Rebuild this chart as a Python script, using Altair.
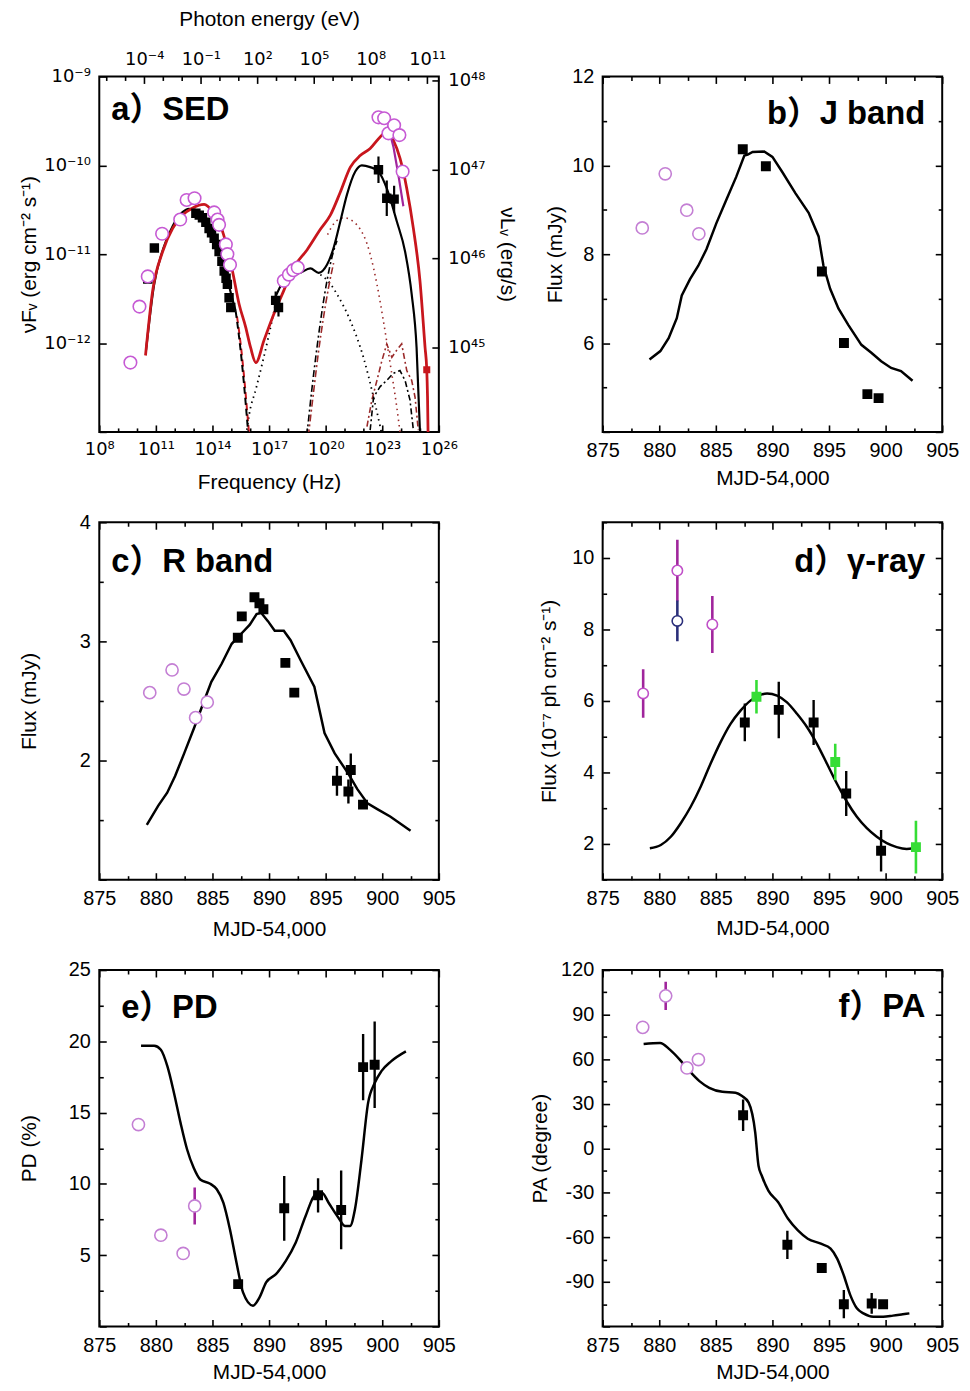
import altair as alt
import pandas as pd

# ---------------- style ----------------
FONT = "Liberation Sans"
SUP_FONT = "DejaVu Sans"
TAG_FONT = "Liberation Sans, Noto Sans CJK SC"
BLK = "#000000"
RED = "#c8161d"
PINK = "#c65ad4"
LPINK = "#c47fd4"
MAG = "#a0259c"
NAVY = "#2b2f7a"
GREEN = "#35dd35"

W = 342
H1, H2, H3 = 358, 360, 359

# ---------------- panel a: SED (log10 nu [Hz], log10 nuFnu [erg cm-2 s-1]) ----------------
RED_NU = [10.45, 10.83, 11.36, 11.89, 12.42, 12.95, 13.56, 14.00, 14.53, 15.06, 15.41, 15.76, 16.02, 16.30,
          16.73, 17.26, 17.78, 18.31, 19.02, 19.72, 20.25, 20.78, 21.31, 21.83, 22.36, 22.89, 23.24, 23.59,
          23.94, 24.30, 24.65, 25.00, 25.27, 25.36, 25.40, 25.45]
RED_F = [-12.14, -11.41, -10.97, -10.71, -10.56, -10.48, -10.44, -10.52, -10.74, -11.19, -11.56, -11.82, -12.05,
         -12.22, -11.97, -11.67, -11.41, -11.15, -10.95, -10.72, -10.56, -10.30, -10.02, -9.89, -9.81, -9.68,
         -9.62, -9.72, -9.92, -10.26, -10.71, -11.30, -12.05, -12.30, -12.60, -13.30]
BLK1_NU = [10.48, 10.90, 11.40, 11.90, 12.40, 12.75, 13.10, 13.50, 13.90, 14.30, 14.70, 15.05, 15.23]
BLK1_F = [-12.08, -11.35, -10.93, -10.68, -10.53, -10.49, -10.50, -10.58, -10.70, -10.90, -11.20, -11.50, -11.64]
BLKD_NU = [15.23, 15.41, 15.67, 15.85, 15.97]
BLKD_F = [-11.64, -11.93, -12.46, -12.90, -13.20]
REDD_NU = [15.30, 15.50, 15.72, 15.90, 16.02]
REDD_F = [-11.70, -12.02, -12.48, -12.92, -13.20]
SSC1_NU = [15.75, 15.95, 16.30, 16.64, 17.00, 17.35]
SSC1_F = [-13.10, -12.80, -12.52, -12.23, -11.90, -11.55]
BLK2_NU = [17.30, 17.78, 18.14, 18.66, 19.19, 19.63, 20.07, 20.42, 20.78, 21.13, 21.57, 21.92, 22.36, 22.80,
           23.24, 23.77, 24.21, 24.56, 24.82, 25.00]
BLK2_F = [-11.50, -11.30, -11.25, -11.21, -11.16, -11.21, -11.12, -10.93, -10.63, -10.33, -10.07, -10.00, -10.02,
          -10.07, -10.26, -10.63, -10.97, -11.45, -12.05, -13.00]
SSC2_NU = [19.72, 20.20, 20.60, 21.31, 22.00, 22.54, 22.89, 23.05]
SSC2_F = [-11.23, -11.32, -11.45, -11.75, -12.16, -12.61, -12.94, -13.10]
EC_NU = [20.10, 20.50, 20.96, 21.66, 22.36, 22.72, 23.06, 23.42, 23.77, 23.97]
EC_F = [-10.78, -10.64, -10.59, -10.67, -11.00, -11.34, -11.75, -12.23, -12.72, -13.05]
ECR_NU = [19.00, 19.28, 19.54, 19.80, 20.07, 20.35, 20.60]
ECR_F = [-13.05, -12.50, -12.05, -11.65, -11.30, -11.02, -10.85]
ECR2_NU = [19.08, 19.36, 19.62, 19.88, 20.15, 20.42]
ECR2_F = [-13.05, -12.55, -12.10, -11.72, -11.38, -11.10]
JAGR_NU = [22.19, 22.45, 22.72, 22.98, 23.24, 23.51, 23.77, 24.03, 24.30, 24.56, 24.74, 24.91]
JAGR_F = [-12.94, -12.64, -12.42, -12.20, -12.01, -12.16, -12.08, -12.01, -12.31, -12.42, -12.61, -12.98]
JAGB_NU = [22.36, 22.54, 22.89, 23.24, 23.59, 23.94, 24.21, 24.47, 24.65]
JAGB_F = [-12.98, -12.61, -12.49, -12.42, -12.34, -12.31, -12.42, -12.64, -12.98]
BUTT_NU = [23.30, 23.60, 23.85, 24.12]
BUTT_F = [-9.55, -9.80, -10.10, -10.46]
SED_CIRC_NU = [9.65, 10.13, 10.57, 11.33, 12.29, 12.63, 13.05, 14.09, 14.27, 14.35, 14.71, 14.79, 14.93,
               17.78, 18.05, 18.28, 18.52, 22.80, 23.10, 23.33, 23.63, 23.91, 24.08]
SED_CIRC_F = [-12.22, -11.59, -11.25, -10.77, -10.61, -10.39, -10.37, -10.53, -10.61, -10.67, -10.89, -11.00,
              -11.12, -11.30, -11.23, -11.18, -11.15, -9.46, -9.47, -9.64, -9.55, -9.66, -10.07]
SED_SQ_NU = [10.92, 10.57, 13.12, 13.30, 13.47, 13.65, 13.82, 13.95, 14.09, 14.22, 14.35, 14.50, 14.62, 14.72,
             14.79, 14.88, 14.97, 17.35, 17.50, 22.80, 23.24, 23.63]
SED_SQ_F = [-10.93, -11.28, -10.54, -10.56, -10.59, -10.64, -10.71, -10.76, -10.82, -10.89, -10.97, -11.08,
            -11.19, -11.27, -11.34, -11.49, -11.60, -11.52, -11.60, -10.05, -10.37, -10.38]
SED_SQ_ERR = [0, 0, 0, 0, 0, 0, 0, 0, 0, 0, 0, 0, 0, 0, 0, 0, 0, 0.10, 0.10, 0.15, 0.20, 0.15]
RED_END_NU = [25.36]
RED_END_F = [-12.30]

# ---------------- panel b: J band ----------------
J_CIRC_X = [878.50, 880.53, 882.43, 883.50]
J_CIRC_Y = [8.59, 9.81, 8.99, 8.46]
J_SQ_X = [887.38, 889.42, 894.37, 896.32, 898.39, 899.38]
J_SQ_Y = [10.36, 9.98, 7.61, 6.00, 4.85, 4.76]
J_MOD_X = [879.14, 880.10, 880.83, 881.55, 881.99, 882.72, 883.45, 884.17, 885.05, 885.92, 886.80, 887.52,
           887.82, 888.25, 889.27, 890.00, 890.87, 892.04, 893.20, 894.08, 894.51, 895.10, 895.83, 896.70,
           897.86, 898.74, 899.61, 900.49, 901.36, 902.38]
J_MOD_Y = [5.63, 5.82, 6.11, 6.56, 7.07, 7.44, 7.74, 8.11, 8.70, 9.22, 9.74, 10.22, 10.24, 10.30, 10.31, 10.19,
           9.85, 9.37, 8.93, 8.40, 7.74, 7.22, 6.78, 6.41, 5.96, 5.78, 5.59, 5.44, 5.37, 5.15]

# ---------------- panel c: R band ----------------
R_CIRC_X = [879.46, 881.43, 882.48, 883.51, 884.54]
R_CIRC_Y = [2.57, 2.76, 2.60, 2.36, 2.49]
R_SQ_X = [887.24, 887.59, 888.71, 889.15, 889.50, 891.44, 892.23, 896.00, 897.01, 897.22, 898.30]
R_SQ_Y = [3.03, 3.21, 3.37, 3.32, 3.27, 2.82, 2.57, 1.83, 1.74, 1.92, 1.63]
R_SQ_ERR = [0, 0, 0, 0, 0, 0, 0, 0.125, 0.10, 0.14, 0]
R_MOD_X = [879.2, 880.2, 881.0, 881.7, 882.5, 883.4, 884.3, 884.9, 885.8, 886.7, 887.5, 888.3, 888.9, 889.3,
           889.9, 890.5, 891.3, 891.9, 892.8, 894.0, 894.9, 895.8, 897.0, 897.8, 898.7, 899.6, 900.7, 902.5]
R_MOD_Y = [1.46, 1.62, 1.73, 1.87, 2.06, 2.28, 2.51, 2.66, 2.81, 2.98, 3.06, 3.14, 3.23, 3.24, 3.17, 3.09, 3.09,
           3.01, 2.84, 2.62, 2.23, 2.06, 1.89, 1.76, 1.64, 1.59, 1.53, 1.41]

# ---------------- panel d: gamma-ray ----------------
G_CIRC_X = [878.58, 881.60, 884.69]
G_CIRC_Y = [6.21, 9.65, 8.14]
G_CIRC_ERR = [0.68, 0.86, 0.80]
G_BLUE_X = [881.60]
G_BLUE_Y = [8.24]
G_BLUE_ERR = [0.57]
G_SQ_X = [887.56, 890.56, 893.64, 896.52, 899.60]
G_SQ_Y = [5.40, 5.75, 5.40, 3.41, 1.81]
G_SQ_ERR = [0.53, 0.79, 0.63, 0.63, 0.58]
G_GRN_X = [888.59, 895.55, 902.68]
G_GRN_Y = [6.12, 4.29, 1.91]
G_GRN_ERR = [0.47, 0.51, 0.74]
G_MOD_X = [879.17, 880.14, 881.02, 881.90, 882.78, 883.66, 884.54, 885.42, 886.30, 887.18, 888.06, 888.94,
           889.53, 890.41, 891.29, 892.17, 893.05, 893.93, 894.81, 895.69, 896.58, 897.46, 898.34, 899.22,
           900.10, 900.98, 901.86, 902.45]
G_MOD_Y = [1.88, 1.97, 2.20, 2.58, 3.04, 3.60, 4.25, 4.85, 5.36, 5.73, 6.01, 6.17, 6.21, 6.15, 5.96, 5.64, 5.27,
           4.80, 4.25, 3.69, 3.18, 2.76, 2.44, 2.20, 2.02, 1.91, 1.86, 1.88]

# ---------------- panel e: PD ----------------
PD_CIRC_X = [878.46, 880.44, 882.41, 883.43]
PD_CIRC_Y = [14.16, 6.40, 5.12, 8.45]
PD_CIRC_ERR = [0, 0, 0, 1.30]
PD_SQ_X = [887.27, 891.34, 894.33, 896.37, 898.31, 899.33]
PD_SQ_Y = [2.97, 8.29, 9.20, 8.17, 18.19, 18.36]
PD_SQ_ERR = [0, 2.27, 1.20, 2.76, 2.33, 3.03]
PD_MOD_X = [878.69, 879.85, 880.44, 881.02, 881.60, 882.18, 882.76, 883.34, 883.92, 884.80, 885.38, 885.96,
            886.54, 887.12, 887.70, 888.58, 889.16, 889.74, 890.61, 891.48, 892.36, 893.23, 894.10, 894.68,
            895.26, 896.13, 896.72, 897.15, 897.59, 898.17, 898.75, 899.33, 899.91, 900.78, 902.09]
PD_MOD_Y = [19.69, 19.69, 19.41, 18.24, 16.38, 14.28, 12.41, 11.13, 10.31, 10.01, 9.62, 8.68, 6.82, 4.49, 2.39,
            1.46, 2.04, 3.09, 3.67, 4.60, 5.89, 7.75, 9.27, 9.38, 8.68, 7.63, 7.05, 7.05, 8.22, 11.71, 15.68,
            17.07, 17.89, 18.59, 19.29]

# ---------------- panel f: PA ----------------
PA_CIRC_X = [878.54, 880.57, 882.45, 883.46]
PA_CIRC_Y = [81.4, 102.6, 54.1, 59.7]
PA_CIRC_ERR = [0, 9.5, 0, 0]
PA_SQ_X = [887.41, 891.32, 894.36, 896.31, 898.77, 899.78]
PA_SQ_Y = [22.2, -65.0, -80.6, -105.0, -104.5, -105.0]
PA_SQ_ERR = [10.6, 9.5, 0, 9.5, 7.0, 0]
PA_MOD_X = [878.62, 880.07, 880.94, 881.81, 882.68, 883.55, 884.42, 885.58, 886.74, 887.32, 887.90, 888.48,
            888.77, 889.06, 889.64, 890.51, 891.38, 892.25, 893.12, 894.28, 895.14, 895.72, 896.30, 896.88,
            897.46, 898.04, 898.91, 899.78, 900.65, 901.52, 902.10]
PA_MOD_Y = [70.2, 70.9, 66.4, 59.7, 51.9, 45.2, 40.7, 38.0, 37.4, 35.1, 30.7, 10.6, -11.8, -18.5, -28.5, -36.4,
            -47.5, -55.3, -60.9, -64.3, -67.6, -74.3, -85.5, -98.9, -107.8, -111.2, -113.4, -113.4, -112.7,
            -111.8, -111.2]

# ---------------- helpers ----------------
SUP = str.maketrans("-0123456789", "⁻⁰¹²³⁴⁵⁶⁷⁸⁹")


def sup10(n):
    return "10" + str(n).translate(SUP)


def expr_for(vals):
    parts = [f"datum.value == {v} ? '{sup10(v)}'" for v in vals]
    return " : ".join(parts) + " : ''"


def sc(dom):
    return alt.Scale(domain=list(dom), nice=False, zero=False)


def enc(xdom, ydom, xf="x", yf="y"):
    return dict(x=alt.X(f"{xf}:Q", scale=sc(xdom), axis=None),
                y=alt.Y(f"{yf}:Q", scale=sc(ydom), axis=None))


def line(xs, ys, xdom, ydom, color=BLK, width=2.4, dash=None, interp="monotone"):
    df = pd.DataFrame({"x": xs, "y": ys, "o": list(range(len(xs)))})
    kw = dict(color=color, strokeWidth=width, clip=True, interpolate=interp)
    if dash is not None:
        kw["strokeDash"] = dash
    return alt.Chart(df).mark_line(**kw).encode(order=alt.Order("o:Q"), **enc(xdom, ydom))


def squares(xs, ys, xdom, ydom, color=BLK, size=100):
    df = pd.DataFrame({"x": xs, "y": ys})
    return alt.Chart(df).mark_point(shape="square", filled=True, color=color, size=size,
                                    opacity=1, clip=True).encode(**enc(xdom, ydom))


def circles(xs, ys, xdom, ydom, color=LPINK, size=150, sw=1.6):
    df = pd.DataFrame({"x": xs, "y": ys})
    return alt.Chart(df).mark_point(shape="circle", filled=True, fill="white", stroke=color,
                                    strokeWidth=sw, size=size, opacity=1, clip=True).encode(**enc(xdom, ydom))


def errbars(xs, ys, es, xdom, ydom, color=BLK, width=2.4):
    rows = [(x, y - e, y + e) for x, y, e in zip(xs, ys, es) if e > 0]
    df = pd.DataFrame(rows, columns=["x", "lo", "hi"])
    return alt.Chart(df).mark_rule(color=color, strokeWidth=width, clip=True).encode(
        x=alt.X("x:Q", scale=sc(xdom), axis=None),
        y=alt.Y("lo:Q", scale=sc(ydom), axis=None),
        y2="hi:Q")


def lab_axis_x(vals, title, title_y, expr, orient="bottom", pad=9, lfont=FONT, lsize=20):
    return alt.Axis(orient=orient, values=vals, ticks=False, domain=False, grid=False,
                    labelFont=lfont, labelFontSize=lsize, labelColor="black", labelPadding=pad,
                    labelFlush=False, labelOverlap=False, labelExpr=expr,
                    title=title, titleFont=FONT, titleFontSize=21, titleFontWeight="normal",
                    titleColor="black", titleX=W / 2, titleY=title_y,
                    titleAlign="center", titleBaseline="middle", titleAngle=0)


def lab_axis_y(vals, title, title_x, H, expr, orient="left", pad=9, angle=270, lfont=FONT, lsize=20):
    return alt.Axis(orient=orient, values=vals, ticks=False, domain=False, grid=False,
                    labelFont=lfont, labelFontSize=lsize, labelColor="black", labelPadding=pad,
                    labelFlush=False, labelOverlap=False, labelExpr=expr,
                    title=title, titleFont=FONT, titleFontSize=21, titleFontWeight="normal",
                    titleColor="black", titleX=title_x, titleY=H / 2,
                    titleAlign="center", titleBaseline="middle", titleAngle=angle)


def tick_axis(orient, vals, size, offset):
    return alt.Axis(orient=orient, values=vals, offset=offset, labels=False, domain=False,
                    grid=False, ticks=True, tickSize=size, tickWidth=1.6, tickColor="black", title="")


def carrier(xdom, ydom, xaxis, yaxis):
    df = pd.DataFrame({"cx": [(xdom[0] + xdom[1]) / 2], "cy": [(ydom[0] + ydom[1]) / 2]})
    return alt.Chart(df).mark_point(opacity=0).encode(
        x=alt.X("cx:Q", scale=sc(xdom), axis=xaxis),
        y=alt.Y("cy:Q", scale=sc(ydom), axis=yaxis))


def tag(text, x, y, align):
    return alt.Chart(pd.DataFrame({"t": [text]})).mark_text(
        align=align, baseline="middle", font=TAG_FONT, fontSize=33, fontWeight="bold",
        color="black").encode(x=alt.value(x), y=alt.value(y), text="t:N")


PLAIN = "'' + datum.value"
T_DOM = [875, 905]
T_MAJ = [875, 880, 885, 890, 895, 900, 905]
T_MIN = [877.5, 882.5, 887.5, 892.5, 897.5, 902.5]


def std_panel(layers, ydom, H, ymaj, ymin, ylabs, ytitle, ytitle_x, xtitle_y, tagtext, tagx, tagy, tagalign):
    car = [
        carrier(T_DOM, ydom, lab_axis_x(T_MAJ, "MJD-54,000", xtitle_y, PLAIN),
                lab_axis_y(ylabs, ytitle, ytitle_x, H, PLAIN)),
        carrier(T_DOM, ydom, tick_axis("top", T_MAJ, 7, -H), tick_axis("right", ymaj, 7, -W)),
        carrier(T_DOM, ydom, tick_axis("top", T_MIN, 4, -H), tick_axis("right", ymin, 4, -W)),
        carrier(T_DOM, ydom, tick_axis("bottom", T_MAJ, 7, -H), tick_axis("left", ymaj, 7, -W)),
        carrier(T_DOM, ydom, tick_axis("bottom", T_MIN, 4, -H), tick_axis("left", ymin, 4, -W)),
    ]
    return alt.layer(*layers, *car, tag(tagtext, tagx, tagy, tagalign)).resolve_scale(
        x="independent", y="independent").properties(width=W, height=H)


# ---------------- panel a ----------------
NU_DOM = [8, 26]
F_DOM = [-13, -9]
E_DOM = [8 - 14.383, 26 - 14.383]
L_DOM = [44.05, 48.05]
NU_MAJ = [8, 11, 14, 17, 20, 23, 26]
NU_MIN = [9, 10, 12, 13, 15, 16, 18, 19, 21, 22, 24, 25]
E_MAJ = [-4, -1, 2, 5, 8, 11]
E_MIN = [-6, -5, -3, -2, 0, 1, 3, 4, 6, 7, 9, 10]
F_MAJ = [-13, -12, -11, -10, -9]
F_LAB = [-12, -11, -10, -9]
L_MAJ = [45, 46, 47, 48]

a_layers = [
    line(SSC1_NU, SSC1_F, NU_DOM, F_DOM, BLK, 1.8, [1.5, 4]),
    line(SSC2_NU, SSC2_F, NU_DOM, F_DOM, BLK, 1.8, [1.5, 4]),
    line(EC_NU, EC_F, NU_DOM, F_DOM, "#9a2a2a", 1.6, [1.5, 4]),
    line(ECR_NU, ECR_F, NU_DOM, F_DOM, BLK, 1.6, [7, 3, 2, 3]),
    line(ECR2_NU, ECR2_F, NU_DOM, F_DOM, "#9a2a2a", 1.6, [7, 3, 2, 3]),
    line(JAGR_NU, JAGR_F, NU_DOM, F_DOM, "#9a2a2a", 1.6, [6, 3, 2, 3], "linear"),
    line(JAGB_NU, JAGB_F, NU_DOM, F_DOM, BLK, 1.6, [6, 3, 2, 3], "linear"),
    line(REDD_NU, REDD_F, NU_DOM, F_DOM, RED, 2.0, [7, 4]),
    line(BLKD_NU, BLKD_F, NU_DOM, F_DOM, BLK, 2.0, [7, 4]),
    line(BLK1_NU, BLK1_F, NU_DOM, F_DOM, BLK, 2.2),
    line(BLK2_NU, BLK2_F, NU_DOM, F_DOM, BLK, 2.2),
    line(RED_NU, RED_F, NU_DOM, F_DOM, RED, 2.8),
    squares(RED_END_NU, RED_END_F, NU_DOM, F_DOM, RED, 50),
    line(BUTT_NU, BUTT_F, NU_DOM, F_DOM, MAG, 2.2, None, "linear"),
    errbars(SED_SQ_NU, SED_SQ_F, SED_SQ_ERR, NU_DOM, F_DOM, BLK, 2.2),
    squares(SED_SQ_NU, SED_SQ_F, NU_DOM, F_DOM, BLK, 90),
    circles(SED_CIRC_NU, SED_CIRC_F, NU_DOM, F_DOM, PINK, 160, 1.6),
]
a_car = [
    carrier(NU_DOM, F_DOM,
            lab_axis_x(NU_MAJ, "Frequency (Hz)", 51, expr_for(NU_MAJ), lfont=SUP_FONT, lsize=18),
            lab_axis_y(F_LAB, "νFᵥ (erg cm⁻² s⁻¹)", -70, H1, expr_for(F_LAB), lfont=SUP_FONT, lsize=18)),
    carrier(NU_DOM, F_DOM, tick_axis("top", NU_MAJ, 7, -H1), tick_axis("right", F_MAJ, 7, -W)),
    carrier(NU_DOM, F_DOM, tick_axis("top", NU_MIN, 4, -H1), None),
    carrier(E_DOM, F_DOM, lab_axis_x(E_MAJ, "Photon energy (eV)", -57, expr_for(E_MAJ), orient="top", pad=8,
                                     lfont=SUP_FONT, lsize=18), None),
    carrier(E_DOM, F_DOM, tick_axis("bottom", E_MAJ, 7, -H1), None),
    carrier(E_DOM, F_DOM, tick_axis("bottom", E_MIN, 4, -H1), None),
    carrier(NU_DOM, L_DOM, None,
            lab_axis_y(L_MAJ, "νLᵥ (erg/s)", 68, H1, expr_for(L_MAJ), orient="right", pad=9, angle=90,
                       lfont=SUP_FONT, lsize=18)),
    carrier(NU_DOM, L_DOM, None, tick_axis("left", L_MAJ, 7, -W)),
]
panel_a = alt.layer(*a_layers, *a_car, tag("a）SED", 12, 34, "left")).resolve_scale(
    x="independent", y="independent").properties(width=W, height=H1)

# ---------------- panel b ----------------
JD = [4, 12]
panel_b = std_panel([
    line(J_MOD_X, J_MOD_Y, T_DOM, JD, BLK, 2.5, None, "linear"),
    squares(J_SQ_X, J_SQ_Y, T_DOM, JD),
    circles(J_CIRC_X, J_CIRC_Y, T_DOM, JD),
], JD, H1, [4, 6, 8, 10, 12], [5, 7, 9, 11], [6, 8, 10, 12], "Flux (mJy)", -47, 47,
    "b）J band", 325, 38, "right")

# ---------------- panel c ----------------
RD = [1, 4]
panel_c = std_panel([
    line(R_MOD_X, R_MOD_Y, T_DOM, RD, BLK, 2.5, None, "linear"),
    errbars(R_SQ_X, R_SQ_Y, R_SQ_ERR, T_DOM, RD),
    squares(R_SQ_X, R_SQ_Y, T_DOM, RD),
    circles(R_CIRC_X, R_CIRC_Y, T_DOM, RD),
], RD, H2, [1, 2, 3, 4], [1.5, 2.5, 3.5], [2, 3, 4], "Flux (mJy)", -70, 50,
    "c）R band", 12, 40, "left")

# ---------------- panel d ----------------
GD = [1, 11]
panel_d = std_panel([
    line(G_MOD_X, G_MOD_Y, T_DOM, GD, BLK, 2.5),
    errbars(G_CIRC_X, G_CIRC_Y, G_CIRC_ERR, T_DOM, GD, MAG, 2.6),
    errbars(G_BLUE_X, G_BLUE_Y, G_BLUE_ERR, T_DOM, GD, NAVY, 2.6),
    errbars(G_SQ_X, G_SQ_Y, G_SQ_ERR, T_DOM, GD, BLK, 2.4),
    errbars(G_GRN_X, G_GRN_Y, G_GRN_ERR, T_DOM, GD, GREEN, 2.6),
    squares(G_SQ_X, G_SQ_Y, T_DOM, GD),
    squares(G_GRN_X, G_GRN_Y, T_DOM, GD, GREEN),
    circles(G_CIRC_X, G_CIRC_Y, T_DOM, GD, "#c050c8", 110),
    circles(G_BLUE_X, G_BLUE_Y, T_DOM, GD, NAVY, 110),
], GD, H2, [2, 4, 6, 8, 10], [1, 3, 5, 7, 9, 11], [2, 4, 6, 8, 10],
    "Flux (10⁻⁷ ph cm⁻² s⁻¹)", -53, 49, "d）γ-ray", 325, 40, "right")

# ---------------- panel e ----------------
ED = [0, 25]
panel_e = std_panel([
    line(PD_MOD_X, PD_MOD_Y, T_DOM, ED, BLK, 2.5),
    errbars(PD_CIRC_X, PD_CIRC_Y, PD_CIRC_ERR, T_DOM, ED, MAG, 2.6),
    errbars(PD_SQ_X, PD_SQ_Y, PD_SQ_ERR, T_DOM, ED),
    squares(PD_SQ_X, PD_SQ_Y, T_DOM, ED),
    circles(PD_CIRC_X, PD_CIRC_Y, T_DOM, ED),
], ED, H3, [0, 5, 10, 15, 20, 25], [2.5, 7.5, 12.5, 17.5, 22.5], [5, 10, 15, 20, 25],
    "PD (%)", -70, 46, "e）PD", 22, 38, "left")

# ---------------- panel f ----------------
FD = [-120, 120]
panel_f = std_panel([
    line(PA_MOD_X, PA_MOD_Y, T_DOM, FD, BLK, 2.5),
    errbars(PA_CIRC_X, PA_CIRC_Y, PA_CIRC_ERR, T_DOM, FD, MAG, 2.6),
    errbars(PA_SQ_X, PA_SQ_Y, PA_SQ_ERR, T_DOM, FD),
    squares(PA_SQ_X, PA_SQ_Y, T_DOM, FD),
    circles(PA_CIRC_X, PA_CIRC_Y, T_DOM, FD),
], FD, H3, [-120, -90, -60, -30, 0, 30, 60, 90, 120], [-105, -75, -45, -15, 15, 45, 75, 105],
    [-90, -60, -30, 0, 30, 60, 90, 120], "PA (degree)", -63, 46, "f）PA", 325, 37, "right")

chart = alt.concat(
    panel_a, panel_b, panel_c, panel_d, panel_e, panel_f,
    columns=2, spacing={"row": 91, "column": 165}, bounds="flush",
).properties(
    padding={"left": 18, "top": 3, "right": 10, "bottom": 5},
    background="white",
).configure_view(stroke="black", strokeWidth=2)

chart.save("out.html", embed_options={"renderer": "svg", "actions": False})
